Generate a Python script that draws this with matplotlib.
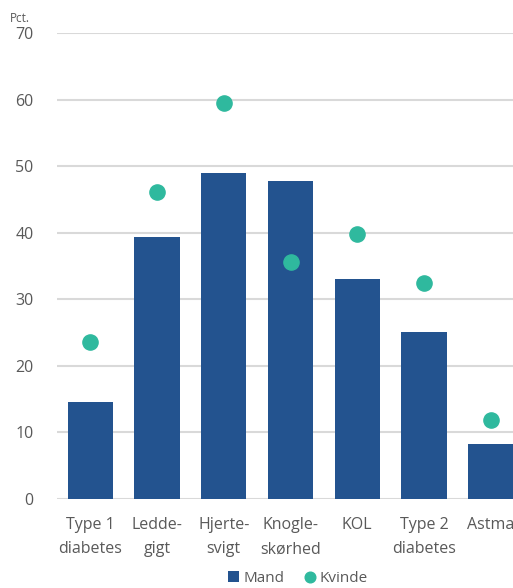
import matplotlib.pyplot as plt
import numpy as np

categories = ["Type 1\ndiabetes", "Ledde-\ngigt", "Hjerte-\nsvigt", "Knogle-\nskørhed",
              "KOL", "Type 2\ndiabetes", "Astma"]
mand = [14.6, 39.4, 49.0, 47.8, 33.1, 25.1, 8.3]
kvinde = [23.6, 46.1, 59.5, 35.6, 39.8, 32.5, 11.9]
yticks = [0, 10, 20, 30, 40, 50, 60, 70]

bar_color = "#23538F"
dot_color = "#2FB99E"
text_color = "#595959"

plt.rcParams["font.family"] = ["Open Sans", "DejaVu Sans"]

fig = plt.figure(figsize=(5.13, 5.88), dpi=100)
W, H = 513, 588
ax = fig.add_axes([57 / W, (H - 499) / H, 467 / W, 466 / H])

x = np.arange(len(categories))
bars = ax.bar(x, mand, width=0.68, color=bar_color, zorder=2, label="Mand")
dots = ax.scatter(x, kvinde, s=120, color=dot_color, zorder=3, label="Kvinde")

ax.set_xlim(-0.5, len(categories) - 0.5)
ax.set_ylim(0, 70)
ax.set_yticks(yticks)
ax.yaxis.grid(True, color="#D9D9D9", linewidth=1.5, zorder=0)
ax.set_axisbelow(True)
ax.set_xticks(x)
ax.set_xticklabels(categories, linespacing=1.7)
ax.tick_params(axis="both", length=0, colors=text_color)
ax.tick_params(axis="y", pad=17, labelsize=11.5)
ax.tick_params(axis="x", pad=13, labelsize=11.5)
for spine in ax.spines.values():
    spine.set_visible(False)

fig.text(10 / W, 1 - 18 / H, "Pct.", color=text_color, fontsize=8.5, va="center", ha="left")

fig.legend(handles=[bars, dots], loc="center", bbox_to_anchor=(298 / W, 1 - 578 / H), ncol=2,
           frameon=False, fontsize=11, labelcolor=text_color, handlelength=0.7,
           handletextpad=0.3, columnspacing=1.3, markerscale=0.7)

fig.savefig("out.png", dpi=100)
